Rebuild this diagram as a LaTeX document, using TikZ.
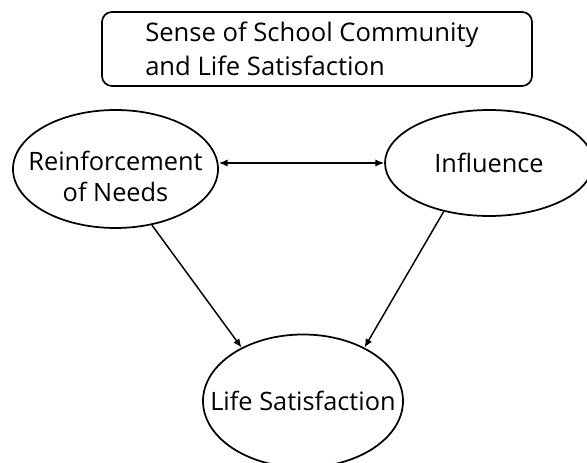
\documentclass[tikz,border=0pt]{standalone}
\usepackage{fontspec}
\setmainfont{Open Sans}
\usepackage{tikz}
\usetikzlibrary{shapes,arrows.meta,positioning}
\tikzstyle{block} = [rectangle, draw, rounded corners=7.5pt, line width=1.3pt,
    minimum width=322.5pt, minimum height=55.5pt]
\tikzstyle{blocktext} = [align=left, inner sep=0pt, font=\fontsize{19.2}{25.5}\selectfont]
\tikzstyle{factor} = [ellipse, draw, line width=1.3pt, inner xsep=-20pt, inner ysep=0pt,
    align=center, font=\fontsize{19}{23.5}\selectfont]
\tikzstyle{line} = [draw, line width=1.1pt, -{Latex[length=6.5pt,width=5.5pt]}]
\tikzstyle{dline} = [draw, line width=1.1pt, {Latex[length=6.5pt,width=5.5pt]}-{Latex[length=6.5pt,width=5.5pt]}]

\begin{document}
\begin{tikzpicture}[x=0.75pt, y=-0.75pt]
        \useasboundingbox (0,0) rectangle (587,463);
        % Components
        \node [block] (title) at (317,49) {};
        \node [blocktext, anchor=west] (titletext) at (145,49) {Sense of School Community\\and Life Satisfaction};
        \node [factor, minimum width=153.75pt, minimum height=88.5pt] (needs) at (115.5,169) {\rule{0pt}{25.5pt}Reinforcement\\of Needs};
        \node [factor, minimum width=156pt, minimum height=79.5pt] (influence) at (489,163) {Influence};
        \node [factor, minimum width=150pt, minimum height=99.75pt] (life) at (303,401) {Life Satisfaction};
        
        % Connections
        \path [dline] (needs.east |- influence.west) -- (influence.west);
        \path [line] (needs.-57) -- (life.139);
        \path [line] (influence.-133) -- (life.41);
    \end{tikzpicture}
\end{document}
